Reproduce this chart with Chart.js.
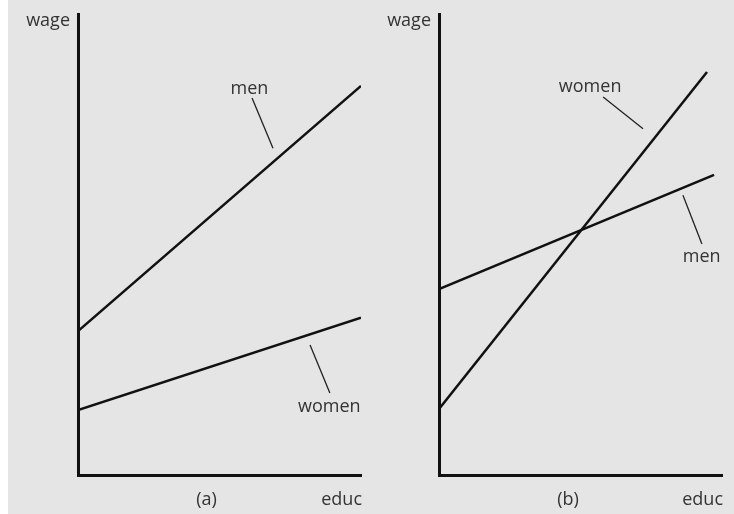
<!DOCTYPE html>
<html><head><meta charset="utf-8">
<script src="https://cdn.jsdelivr.net/npm/chart.js@4.4.1/dist/chart.umd.min.js"></script>
<style>
html,body{margin:0;padding:0;background:#fff;}
#bg{position:absolute;left:8px;top:0;width:726px;height:514px;background:#e4e5e4;}
canvas{position:absolute;top:0;}
#ca{left:0;}
#cb{left:367px;}
</style></head><body>
<div id="bg"></div>
<canvas id="ca" width="367" height="514"></canvas>
<canvas id="cb" width="367" height="514"></canvas>
<script>
// ---- data (educ on x, wage on y; arbitrary units) ----
const educA = [0, 10];
const menWageA = [3.12, 8.44];
const womenWageA = [1.41, 3.41];

const educWomenB = [0, 9.47];
const womenWageB = [1.43, 8.74];
const educMenB = [0, 9.72];
const menWageB = [4.03, 6.51];

// leader lines from labels to curves [educ, wage]
const leaderMenA = [[6.15, 8.18], [6.89, 7.09]];
const leaderWomenA = [[8.20, 2.82], [8.90, 1.78]];
const leaderWomenB = [[5.80, 8.20], [7.21, 7.51]];
const leaderMenB = [[8.62, 6.07], [9.29, 5.01]];

// labels [text, educ, wage]
const labelsA = [["men", 6.06, 8.26], ["women", 8.88, 1.37]];
const labelsB = [["women", 5.34, 8.31], ["men", 9.28, 4.62]];
const panelTags = ["(a)", "(b)"];
const axisNames = {x: "educ", y: "wage"};

const toPts = (xs, ys) => xs.map((x, i) => ({x: x, y: ys[i]}));
const segPts = seg => seg.map(p => ({x: p[0], y: p[1]}));

const FONT = '18px "Open Sans", "DejaVu Sans", sans-serif';
const TXT = '#333333';

function textPlugin(labels, tag, tagX) {
  return {
    id: 'txt',
    afterDraw(chart) {
      const ctx = chart.ctx, xs = chart.scales.x, ys = chart.scales.y, a = chart.chartArea;
      ctx.save();
      ctx.font = FONT;
      ctx.fillStyle = TXT;
      ctx.textBaseline = 'alphabetic';
      labels.forEach(l => {
        ctx.textAlign = 'center';
        ctx.fillText(l[0], xs.getPixelForValue(l[1]), ys.getPixelForValue(l[2]));
      });
      ctx.textAlign = 'right';
      ctx.fillText(axisNames.y, a.left - 8, a.top + 12);
      ctx.fillText(axisNames.x, a.right + 1, a.bottom + 30);
      ctx.textAlign = 'center';
      ctx.fillText(tag, xs.getPixelForValue(tagX), a.bottom + 30);
      ctx.restore();
    }
  };
}

function makeChart(id, datasets, labels, tag, tagX, pad) {
  const axis = {
    type: 'linear', min: 0, max: 10,
    grid: {display: false, drawTicks: false},
    ticks: {display: false},
    border: {display: true, color: '#111', width: 3}
  };
  return new Chart(document.getElementById(id), {
    type: 'scatter',
    data: {datasets: datasets},
    options: {
      responsive: false,
      animation: false,
      devicePixelRatio: 1,
      layout: {padding: pad},
      plugins: {legend: {display: false}, tooltip: {enabled: false}},
      scales: {x: Object.assign({}, axis), y: Object.assign({}, axis)},
      elements: {point: {radius: 0}}
    },
    plugins: [textPlugin(labels, tag, tagX)]
  });
}

const mainLine = d => ({data: d, showLine: true, borderColor: '#111', borderWidth: 2.5, pointRadius: 0});
const leader = d => ({data: d, showLine: true, borderColor: '#222', borderWidth: 1.3, pointRadius: 0});

makeChart('ca', [
  mainLine(toPts(educA, menWageA)),
  mainLine(toPts(educA, womenWageA)),
  leader(segPts(leaderMenA)),
  leader(segPts(leaderWomenA))
], labelsA, panelTags[0], 4.54, {left: 78, top: 14, bottom: 39, right: 6});

makeChart('cb', [
  mainLine(toPts(educWomenB, womenWageB)),
  mainLine(toPts(educMenB, menWageB)),
  leader(segPts(leaderWomenB)),
  leader(segPts(leaderMenB))
], labelsB, panelTags[1], 4.56, {left: 72, top: 14, bottom: 39, right: 12});
</script>
</body></html>
